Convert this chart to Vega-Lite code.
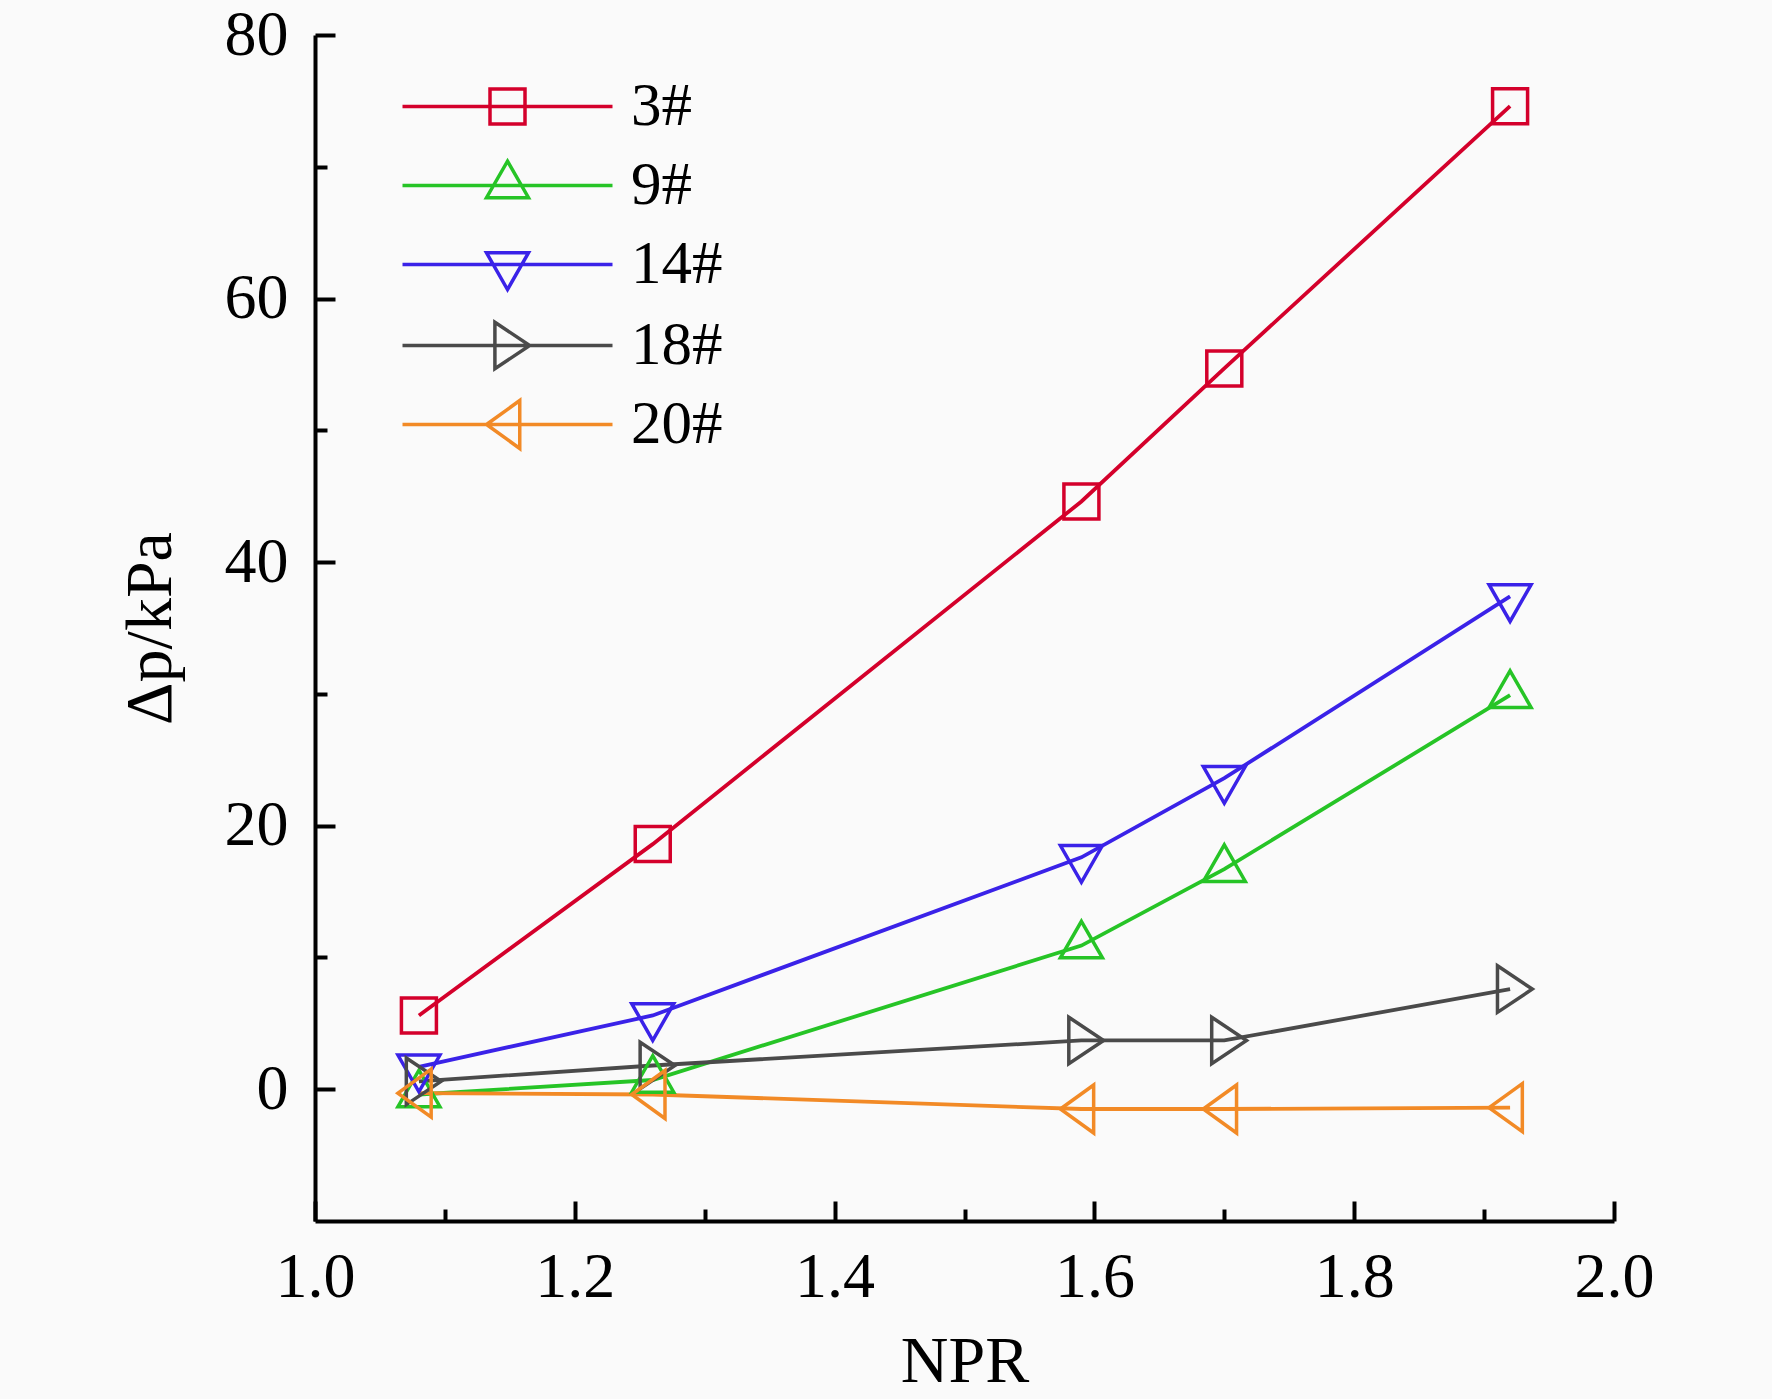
{
  "$schema": "https://vega.github.io/schema/vega-lite/v6.json",
  "autosize": "none",
  "padding": {"left": 315, "top": 35, "right": 158, "bottom": 178},
  "width": 1299,
  "height": 1186,
  "background": "#fafafa",
  "config": {
    "font": "Liberation Serif",
    "view": {"stroke": null},
    "axis": {
      "grid": false,
      "domainColor": "#000000",
      "domainWidth": 4,
      "tickColor": "#000000",
      "tickWidth": 4,
      "labelColor": "#000000",
      "titleColor": "#000000",
      "labelFont": "Liberation Serif",
      "titleFont": "Liberation Serif",
      "labelFontSize": 64,
      "titleFontSize": 66,
      "titleFontWeight": "normal"
    }
  },
  "data": {
    "values": [
      {"series": "3#", "marker": "square", "npr": 1.08, "dp": 5.6},
      {"series": "3#", "marker": "square", "npr": 1.26, "dp": 18.6},
      {"series": "3#", "marker": "square", "npr": 1.59, "dp": 44.6},
      {"series": "3#", "marker": "square", "npr": 1.70, "dp": 54.7},
      {"series": "3#", "marker": "square", "npr": 1.92, "dp": 74.6},
      {"series": "9#", "marker": "up", "npr": 1.08, "dp": -0.4},
      {"series": "9#", "marker": "up", "npr": 1.26, "dp": 0.7},
      {"series": "9#", "marker": "up", "npr": 1.59, "dp": 10.9},
      {"series": "9#", "marker": "up", "npr": 1.70, "dp": 16.7},
      {"series": "9#", "marker": "up", "npr": 1.92, "dp": 29.9},
      {"series": "14#", "marker": "down", "npr": 1.08, "dp": 1.7},
      {"series": "14#", "marker": "down", "npr": 1.26, "dp": 5.6},
      {"series": "14#", "marker": "down", "npr": 1.59, "dp": 17.6},
      {"series": "14#", "marker": "down", "npr": 1.70, "dp": 23.6},
      {"series": "14#", "marker": "down", "npr": 1.92, "dp": 37.4},
      {"series": "18#", "marker": "right", "npr": 1.08, "dp": 0.6},
      {"series": "18#", "marker": "right", "npr": 1.26, "dp": 1.8},
      {"series": "18#", "marker": "right", "npr": 1.59, "dp": 3.7},
      {"series": "18#", "marker": "right", "npr": 1.70, "dp": 3.7},
      {"series": "18#", "marker": "right", "npr": 1.92, "dp": 7.6},
      {"series": "20#", "marker": "left", "npr": 1.08, "dp": -0.3},
      {"series": "20#", "marker": "left", "npr": 1.26, "dp": -0.4},
      {"series": "20#", "marker": "left", "npr": 1.59, "dp": -1.5},
      {"series": "20#", "marker": "left", "npr": 1.70, "dp": -1.5},
      {"series": "20#", "marker": "left", "npr": 1.92, "dp": -1.4}
    ]
  },
  "encoding": {
    "x": {
      "field": "npr", "type": "quantitative",
      "scale": {"domain": [1.0, 2.0], "nice": false, "zero": false},
      "axis": {
        "title": "NPR",
        "values": [1.0, 1.1, 1.2, 1.3, 1.4, 1.5, 1.6, 1.7, 1.8, 1.9, 2.0],
        "format": ".1f",
        "labelExpr": "round(datum.value * 10) % 2 == 0 ? datum.label : ''",
        "tickSize": {"condition": {"test": "round(datum.value * 10) % 2 == 0", "value": -20}, "value": -12},
        "labelPadding": 44,
        "labelFlush": false,
        "titlePadding": 20
      }
    },
    "y": {
      "field": "dp", "type": "quantitative",
      "scale": {"domain": [-10, 80], "nice": false, "zero": false},
      "axis": {
        "title": "Δp/kPa",
        "values": [0, 10, 20, 30, 40, 50, 60, 70, 80],
        "format": "d",
        "labelExpr": "datum.value % 20 == 0 ? datum.label : ''",
        "tickSize": {"condition": {"test": "datum.value % 20 == 0", "value": -20}, "value": -12},
        "labelPadding": 47,
        "labelFlush": false,
        "titlePadding": 40
      }
    },
    "color": {
      "field": "series", "type": "nominal",
      "scale": {
        "domain": ["3#", "9#", "14#", "18#", "20#"],
        "range": ["#d4002b", "#26c426", "#3a22e8", "#4a4a4a", "#f28a26"]
      },
      "legend": {
        "title": null,
        "orient": "none",
        "legendX": 162,
        "legendY": 41,
        "padding": 0,
        "symbolSize": 1225,
        "symbolStrokeWidth": 3.5,
        "symbolFillColor": "transparent",
        "labelFontSize": 61,
        "labelFont": "Liberation Serif",
        "labelColor": "#000000",
        "labelOffset": 93,
        "rowPadding": 17,
        "labelLimit": 0,
        "encode": {
          "symbols": {
            "update": {
              "shape": {"signal": "datum.value == '3#' ? 'M-6,0H6M-1,-1H1V1H-1Z' : datum.value == '9#' ? 'M-6,0H6M0,-1.39L1.2,0.7L-1.2,0.7Z' : datum.value == '14#' ? 'M-6,0H6M-1.2,-0.67L1.2,-0.67L0,1.43Z' : datum.value == '18#' ? 'M-6,0H6M-0.72,-1.33L1.27,0L-0.72,1.33Z' : 'M-6,0H6M-1.2,0L0.7,-1.37L0.7,1.37Z'"},
              "fill": {"value": "transparent"},
              "strokeWidth": {"value": 3.5}
            }
          }
        }
      }
    }
  },
  "layer": [
    {
      "mark": {"type": "line", "strokeWidth": 3.8}
    },
    {
      "mark": {"type": "point", "filled": false, "strokeWidth": 3.5, "size": 1225, "opacity": 1},
      "encoding": {
        "shape": {
          "field": "marker", "type": "nominal",
          "scale": {
            "domain": ["square", "up", "down", "right", "left"],
            "range": [
              "M-1,-1H1V1H-1Z",
              "M0,-1.39L1.2,0.7L-1.2,0.7Z",
              "M-1.2,-0.67L1.2,-0.67L0,1.43Z",
              "M-0.72,-1.33L1.27,0L-0.72,1.33Z",
              "M-1.2,0L0.7,-1.37L0.7,1.37Z"
            ]
          },
          "legend": null
        }
      }
    }
  ]
}
